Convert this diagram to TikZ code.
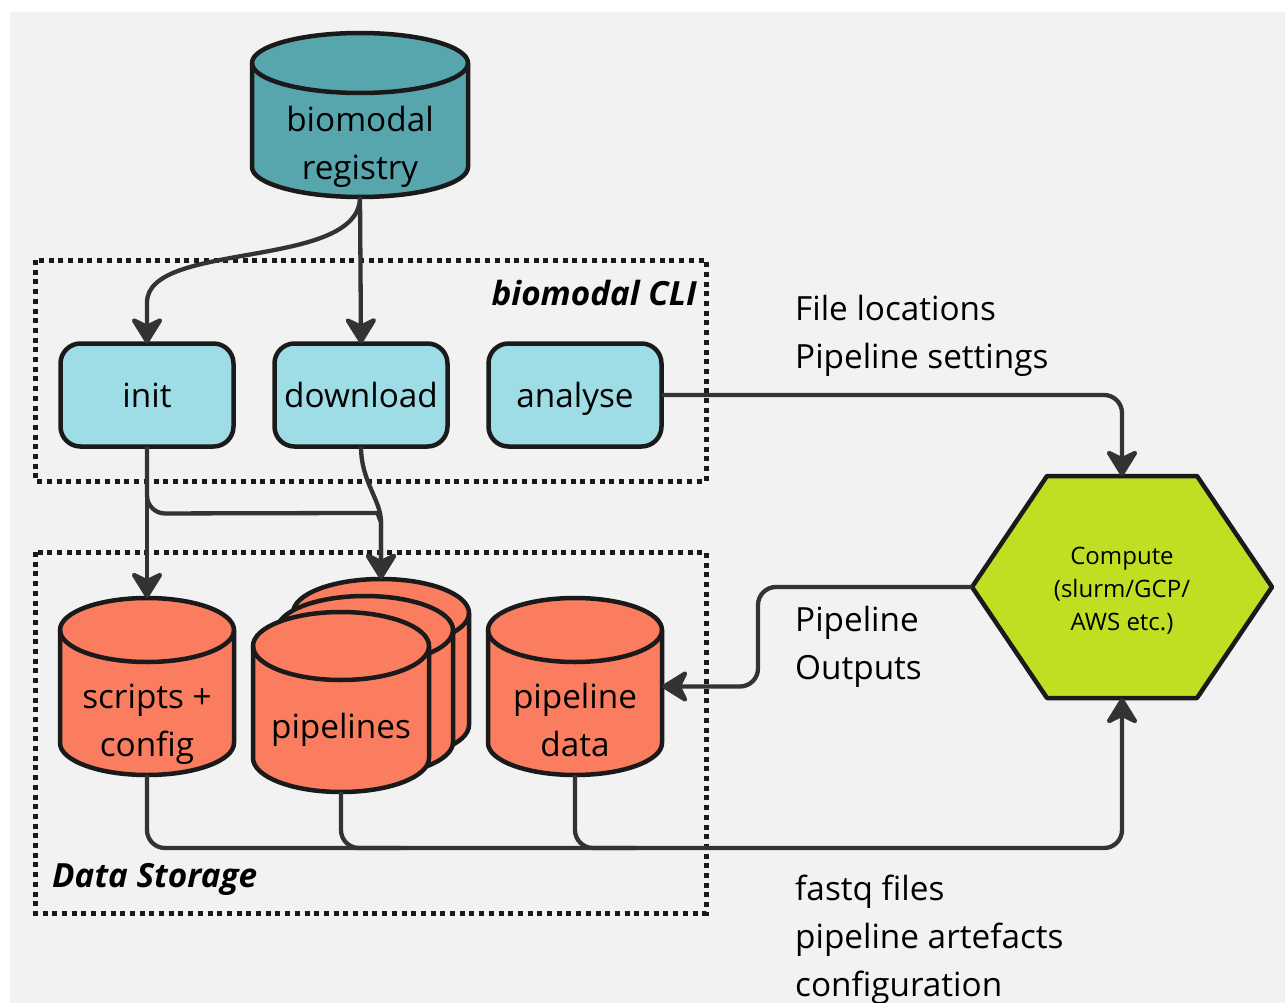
\documentclass[tikz,border=0pt]{standalone}
\usepackage{fontspec}
\setmainfont{Open Sans}
\usetikzlibrary{arrows.meta,calc}

\definecolor{paper}{HTML}{F2F2F2}
\definecolor{ink}{HTML}{1A1A1A}
\definecolor{wire}{HTML}{333333}
\definecolor{registryteal}{HTML}{58A6AD}
\definecolor{cmdblue}{HTML}{9EDCE6}
\definecolor{storeorange}{HTML}{F97D5E}
\definecolor{computelime}{HTML}{C1DF22}

\newcommand\mainsz{\fontsize{33.3}{48}\selectfont}
\newcommand\smallsz{\fontsize{24}{33}\selectfont}

\tikzset{
  outline/.style={draw=ink, line width=4.5pt, line join=round},
  conn/.style={draw=wire, line width=4.3pt, rounded corners=18pt,
    -{Stealth[length=30pt,width=37pt,inset=9pt,round]}},
  bus/.style={draw=wire, line width=4.3pt, rounded corners=18pt},
  cmd/.style={outline, fill=cmdblue, rounded corners=20pt,
    minimum width=173pt, minimum height=103pt, inner sep=0pt, outer sep=0pt,
    text height=25pt, text depth=0pt, font=\mainsz},
  group/.style={draw=ink, line width=5pt, dash pattern=on 5pt off 4.7pt},
  lbl/.style={font=\mainsz, align=left, anchor=west, inner sep=0pt},
  grouptitle/.style={font=\mainsz\bfseries\itshape, inner sep=0pt},
  frame/.style={minimum width=#1, inner sep=0pt, outer sep=0pt},
}

% \drum{name}{cx}{top}{bottom}{rx}{ry}{fill}{text}{extra text drop}
\newcommand\drum[9]{%
  \path[outline, fill=#7] (#2-#5, #3+#6) -- (#2-#5, #4-#6)
    arc[start angle=180, end angle=360, x radius=#5pt, y radius=#6pt]
    -- (#2+#5, #3+#6)
    arc[start angle=0, end angle=180, x radius=#5pt, y radius=#6pt] -- cycle;
  \draw[outline] (#2-#5, #3+#6)
    arc[start angle=180, end angle=360, x radius=#5pt, y radius=#6pt];
  \node[frame={2*#5*1pt}, minimum height={(#4-#3)*1pt}] (#1) at (#2, {(#3+#4)/2}) {};
  \node[font=\mainsz, align=center, inner sep=0pt] (#1-text)
    at ([yshift=-#6pt-2pt-#9pt]#1.center) {#8};
}

\begin{document}
\begin{tikzpicture}[x=1pt, y=-1pt]
  \useasboundingbox (0,0) rectangle (1285,1003);
  \fill[white] (0,0) rectangle (1285,1003);
  \fill[paper] (10,12) rectangle (1285,1003);

  % group frames
  \draw[group] (35,260) rectangle (706,481);
  \draw[group] (35,552) rectangle (706,913);
  \node[grouptitle, anchor=east] (clititle) at (697,293) {biomodal CLI};
  \node[grouptitle, anchor=west] (storetitle) at (52,879) {Data Storage};

  % registry
  \drum{registry}{360}{33}{197}{108}{30}{registryteal}{biomodal\\registry}{0}

  % CLI commands
  \node[cmd] (init) at (147,395) {init};
  \node[cmd] (download) at (361,395) {download};
  \node[cmd] (analyse) at (575,395) {analyse};

  % storage
  \drum{scripts}{147}{598}{775}{87}{32}{storeorange}{scripts +\\config}{4}
  \drum{pipesback}{381}{579}{759}{88}{34}{storeorange}{}{0}
  \drum{pipesmid}{365}{596}{776}{88}{34}{storeorange}{}{0}
  \drum{pipes}{341}{612}{792}{88}{34}{storeorange}{}{0}
  \node[font=\mainsz, inner sep=0pt] (pipes-label) at (341,730) {pipelines};
  \drum{pdata}{575}{598}{775}{87}{32}{storeorange}{pipeline\\data}{0}

  % compute hexagon
  \node[frame=300pt, minimum height=222pt] (compute) at (1122,587) {};
  \path[outline, fill=computelime] (compute.west)
    -- ([xshift=75pt]compute.north west) -- ([xshift=-75pt]compute.north east)
    -- (compute.east)
    -- ([xshift=-75pt]compute.south east) -- ([xshift=75pt]compute.south west)
    -- cycle;
  \node[font=\smallsz, align=center, inner sep=0pt] (compute-text) at (1122,591)
    {Compute\\(slurm/GCP/\\AWS etc.)};

  % annotations
  \node[lbl] (settingsnote) at (795,336) {File locations\\Pipeline settings};
  \node[lbl] (outputsnote) at (795,647) {Pipeline\\Outputs};
  \node[lbl] (inputsnote) at (795,940) {fastq files\\pipeline artefacts\\configuration};

  % connectors
  \draw[conn] (registry.south) .. controls +(0,73) and +(0,-80) ..
    ([yshift=23pt]init.north) -- (init.north);
  \draw[conn] (registry.south) -- (download.north);
  \draw[conn] (init.south) -- (scripts.north);
  \draw[conn] (init.south) -- ++(0,67) -- (360,513)
    .. controls (377,513) and (381,522) .. (381,540) -- (pipesback.north);
  \draw[conn] (download.south) .. controls +(0,35) and +(0,-40) ..
    (381,540) -- (pipesback.north);
  \draw[conn] (analyse.east) -| (compute.north);
  \draw[conn] (compute.west) -- ++(-214,0) |- (pdata.east);
  \draw[conn] (scripts.south) -- ++(0,73) -| (compute.south);
  \draw[bus] (pipes.south) -- ++(0,56) -- ++(60,0);
  \draw[bus] (pdata.south) -- ++(0,73) -- ++(60,0);
\end{tikzpicture}
\end{document}
